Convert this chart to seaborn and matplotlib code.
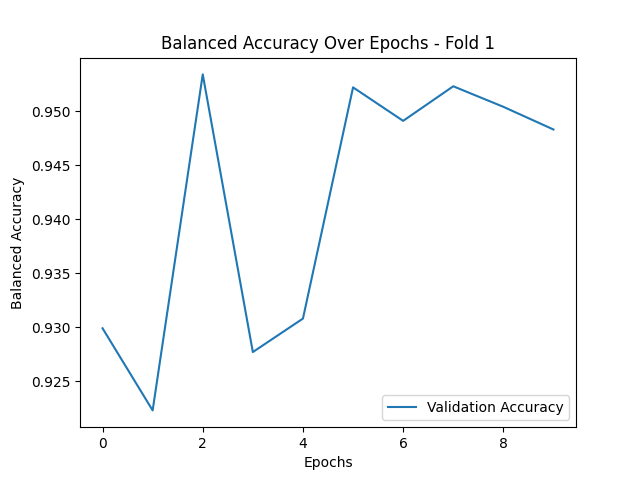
import matplotlib
matplotlib.use("Agg")
import matplotlib.pyplot as plt
import seaborn as sns
import pandas as pd

# values
epochs = list(range(10))
val_acc = [0.9299, 0.9223, 0.9534, 0.9277, 0.9308, 0.9522, 0.9491, 0.9523, 0.9504, 0.9483]

df = pd.DataFrame({'Epochs': epochs, 'Validation Accuracy': val_acc})

fig, ax = plt.subplots(figsize=(6.4, 4.8), dpi=100)
sns.lineplot(data=df, x='Epochs', y='Validation Accuracy', ax=ax, label='Validation Accuracy')
ax.set_title('Balanced Accuracy Over Epochs - Fold 1')
ax.set_xlabel('Epochs')
ax.set_ylabel('Balanced Accuracy')
ax.legend(loc='lower right')
plt.savefig('out.png')
